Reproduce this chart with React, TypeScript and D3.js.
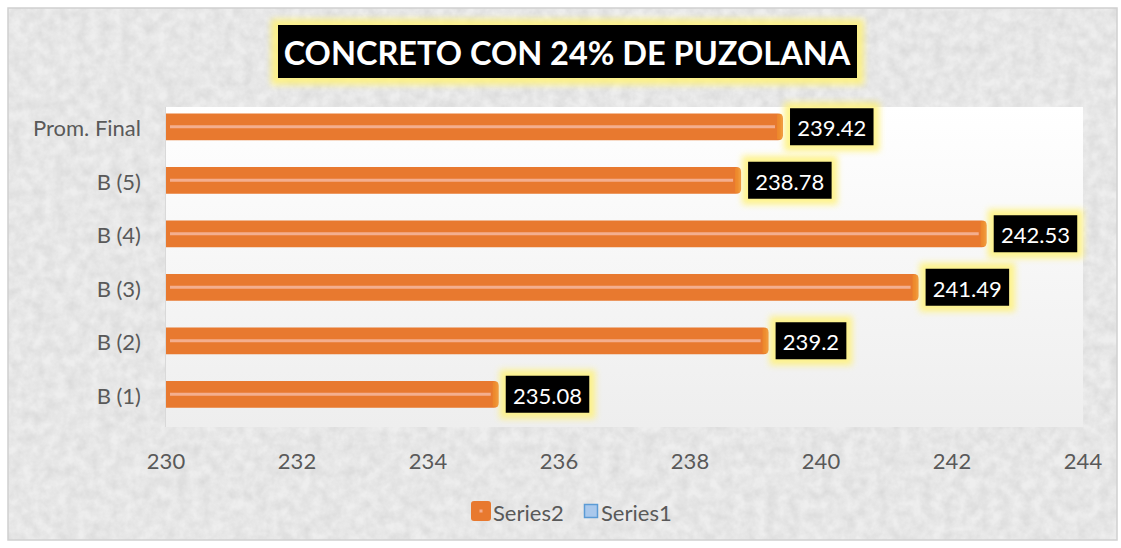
import React from 'react';
import * as d3 from 'd3';

// chart data
const categories = ['B (1)', 'B (2)', 'B (3)', 'B (4)', 'B (5)', 'Prom. Final'];
const series2 = [235.08, 239.2, 241.49, 242.53, 238.78, 239.42];
const series1: number[] = [];
const xTicks = [230, 232, 234, 236, 238, 240, 242, 244];
const legendItems = ['Series2', 'Series1'];

const FONT = 'Lato, "Open Sans", sans-serif';

// rough text width for Lato digits
function labelWidth(s: string, fs: number) {
  let w = 0;
  for (const ch of s) w += ch === '.' ? fs * 0.26 : fs * 0.58;
  return w;
}

export default function App() {
  const width = 1121;
  const height = 548;
  const plot = { left: 166, right: 1083, top: 107, bottom: 427 };

  const x = d3.scaleLinear().domain([230, 244]).range([plot.left, plot.right]);
  const y = d3
    .scaleBand()
    .domain([...categories].reverse())
    .range([100, 421])
    .paddingInner(0.5)
    .paddingOuter(0.25);

  const bh = y.bandwidth();

  return (
    <svg
      width={width}
      height={height}
      style={{ position: 'absolute', left: 0, top: 0, display: 'block' }}
    >
      <defs>
        <filter id="noise" x="0" y="0" width="100%" height="100%">
          <feTurbulence type="fractalNoise" baseFrequency="0.09" numOctaves="3" seed="4" />
          <feColorMatrix
            type="matrix"
            values="0 0 0 0 0.55  0 0 0 0 0.55  0 0 0 0 0.55  0 0 0 1.1 -0.25"
          />
        </filter>
        <filter id="glow" x="-20%" y="-40%" width="140%" height="180%">
          <feGaussianBlur stdDeviation="3" />
        </filter>
        <linearGradient id="plotbg" x1="0" y1="0" x2="0" y2="1">
          <stop offset="0" stopColor="#ffffff" />
          <stop offset="1" stopColor="#eeeeee" />
        </linearGradient>
      </defs>

      {/* textured background */}
      <rect x={8} y={8} width={1109} height={532} fill="#eeeeee" />
      <rect x={8} y={8} width={1109} height={532} filter="url(#noise)" opacity={0.6} />
      <rect x={8} y={8} width={1109} height={532} fill="none" stroke="#d0d0d0" strokeWidth={1.5} />

      {/* plot area */}
      <rect
        x={plot.left}
        y={plot.top}
        width={plot.right - plot.left}
        height={plot.bottom - plot.top}
        fill="url(#plotbg)"
      />
      <line
        x1={plot.left - 0.5}
        x2={plot.left - 0.5}
        y1={plot.top}
        y2={plot.bottom}
        stroke="#d9d9d9"
        strokeWidth={1}
      />

      {/* title */}
      <rect x={271} y={19} width={593} height={66} fill="#fff27a" filter="url(#glow)" opacity={0.85} />
      <rect x={278} y={25} width={579} height={53} fill="#000" />
      <text
        x={567}
        y={52}
        textAnchor="middle"
        dominantBaseline="central"
        fill="#fff"
        fontFamily={FONT}
        fontWeight={700}
        fontSize={32.5}
      >
        CONCRETO CON 24% DE PUZOLANA
      </text>

      {/* bars */}
      {categories.map((c, i) => {
        const v = series2[i];
        const y0 = y(c)!;
        const x0 = x(230);
        const x1 = x(v);
        const r = 5;
        const path = `M${x0},${y0} H${x1 - r} Q${x1},${y0} ${x1},${y0 + r} V${y0 + bh - r} Q${x1},${y0 + bh} ${x1 - r},${y0 + bh} H${x0} Z`;
        const label = String(v);
        const lw = labelWidth(label, 22) + 14;
        const lx = x1 + 7;
        const lh = 37;
        const ly = y0 + bh / 2 - lh / 2;
        return (
          <g key={c}>
            <path d={path} fill="#e8792f" />
            <rect x={x1 - 6} y={y0 + 1} width={5} height={bh - 2} fill="#f08f2a" opacity={0.6} />
            <rect x={x0 + 4} y={y0 + bh / 2 - 1.5} width={x1 - x0 - 12} height={3} fill="#f4ae8e" />
            <rect x={lx - 6} y={ly - 6} width={lw + 12} height={lh + 12} fill="#fff27a" filter="url(#glow)" opacity={0.85} />
            <rect x={lx} y={ly} width={lw} height={lh} fill="#000" />
            <text
              x={lx + lw / 2}
              y={ly + lh / 2 + 1}
              textAnchor="middle"
              dominantBaseline="central"
              fill="#fff"
              fontFamily={FONT}
              fontSize={22}
            >
              {label}
            </text>
          </g>
        );
      })}

      {/* category labels */}
      {categories.map((c) => (
        <text
          key={c}
          x={141}
          y={y(c)! + bh / 2 + 1}
          textAnchor="end"
          dominantBaseline="central"
          fill="#595959"
          fontFamily={FONT}
          fontSize={22}
        >
          {c}
        </text>
      ))}

      {/* x tick labels */}
      {xTicks.map((t) => (
        <text
          key={t}
          x={x(t)}
          y={460}
          textAnchor="middle"
          dominantBaseline="central"
          fill="#595959"
          fontFamily={FONT}
          fontSize={22}
        >
          {t}
        </text>
      ))}

      {/* legend */}
      <g fontFamily={FONT} fontSize={22} fill="#595959">
        <rect x={471} y={501} width={20} height={20} rx={3} fill="#e8792f" />
        <rect x={479.5} y={509.5} width={3} height={3} fill="#f4ae8e" />
        <text x={493} y={512} dominantBaseline="central">
          {legendItems[0]}
        </text>
        <rect x={584.5} y={504.5} width={13} height={13} fill="#a9c8ec" stroke="#5b9bd5" strokeWidth={1.5} />
        <text x={601} y={512} dominantBaseline="central">
          {legendItems[1]}
        </text>
      </g>
      {series1.length > 0 && null}
    </svg>
  );
}
